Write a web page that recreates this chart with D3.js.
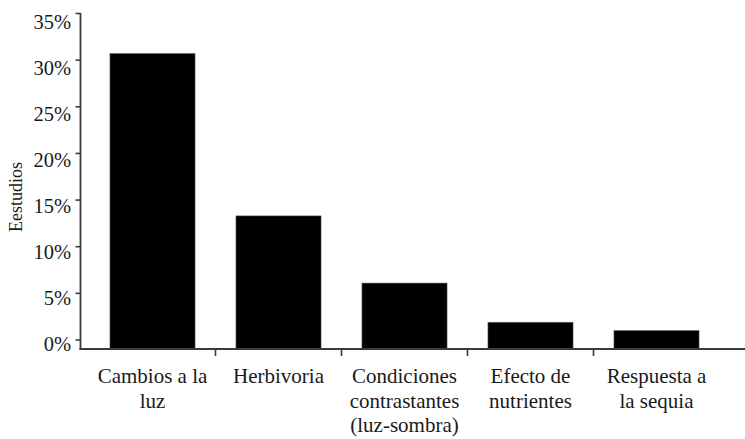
<!DOCTYPE html>
<html>
<head>
<meta charset="utf-8">
<script src="https://cdn.jsdelivr.net/npm/d3@7"></script>
<style>
  html, body { margin: 0; padding: 0; background: #fff; }
  svg { display: block; }
</style>
</head>
<body>
<svg id="chart" width="745" height="439"></svg>
<script>
// ---- data ----
const categories = [
  ["Cambios a la", "luz"],
  ["Herbivoria"],
  ["Condiciones", "contrastantes", "(luz-sombra)"],
  ["Efecto de", "nutrientes"],
  ["Respuesta a", "la sequia"]
];
const values = [30.7, 13.3, 6.1, 1.9, 1.0];
const yTicks = [0, 5, 10, 15, 20, 25, 30, 35];
const yLabel = "Eestudios";

// ---- layout ----
const W = 745, H = 439;
const axisX = 80.5;     // y-axis line position
const axisY = 349;      // x-axis line position
const FONT = "'Liberation Serif', 'Times New Roman', Times, 'DejaVu Serif', serif";
const TXT = "#1a1a1a";
const svg = d3.select("#chart");

const y = d3.scaleLinear().domain([0, 35]).range([340, 13.5]);
const x = d3.scaleBand()
  .domain(d3.range(categories.length))
  .range([89.5, 719.5])
  .paddingInner(0.325)
  .paddingOuter(0.1625);

const axisColor = "#3a3a3a";

// bars
svg.append("g").selectAll("rect")
  .data(values)
  .join("rect")
  .attr("x", (d, i) => x(i))
  .attr("width", x.bandwidth())
  .attr("y", d => y(d))
  .attr("height", d => axisY - y(d))
  .attr("fill", "#000")
  .attr("stroke", "#555")
  .attr("stroke-width", 0.6);

// y axis
svg.append("line")
  .attr("x1", axisX).attr("x2", axisX)
  .attr("y1", y(35) - 0.5).attr("y2", axisY + 1)
  .attr("stroke", axisColor).attr("stroke-width", 1.8);

const yt = svg.append("g");
yt.selectAll("line")
  .data(yTicks)
  .join("line")
  .attr("x1", axisX - 5).attr("x2", axisX)
  .attr("y1", d => y(d)).attr("y2", d => y(d))
  .attr("stroke", axisColor).attr("stroke-width", 1.6);
yt.selectAll("text")
  .data(yTicks)
  .join("text")
  .attr("x", 71)
  .attr("y", d => y(d) + 4 + d * 0.13)
  .attr("dy", "0.35em")
  .attr("text-anchor", "end")
  .attr("font-family", FONT)
  .attr("fill", TXT)
  .attr("font-size", 20.5)
  .text(d => d + "%");

// x axis
svg.append("line")
  .attr("x1", axisX - 1).attr("x2", W)
  .attr("y1", axisY).attr("y2", axisY)
  .attr("stroke", axisColor).attr("stroke-width", 1.8);

const step = x.step();
const gap = step - x.bandwidth();
svg.append("g").selectAll("line")
  .data(d3.range(1, categories.length))
  .join("line")
  .attr("x1", i => x(i) - gap / 2).attr("x2", i => x(i) - gap / 2)
  .attr("y1", axisY).attr("y2", axisY + 7)
  .attr("stroke", axisColor).attr("stroke-width", 1.6);

// category labels
const lab = svg.append("g").selectAll("text")
  .data(categories)
  .join("text")
  .attr("text-anchor", "middle")
  .attr("font-family", FONT)
  .attr("fill", TXT)
  .attr("font-size", 21)
  .attr("transform", (d, i) => `translate(${x(i) + x.bandwidth() / 2},383)`);
lab.selectAll("tspan")
  .data(d => d)
  .join("tspan")
  .attr("x", 0)
  .attr("y", (d, j) => j * 24.5)
  .text(d => d);

// y label
svg.append("text")
  .attr("transform", "translate(22,197) rotate(-90)")
  .attr("text-anchor", "middle")
  .attr("font-family", FONT)
  .attr("fill", TXT)
  .attr("font-size", 18)
  .text(yLabel);
</script>
</body>
</html>
